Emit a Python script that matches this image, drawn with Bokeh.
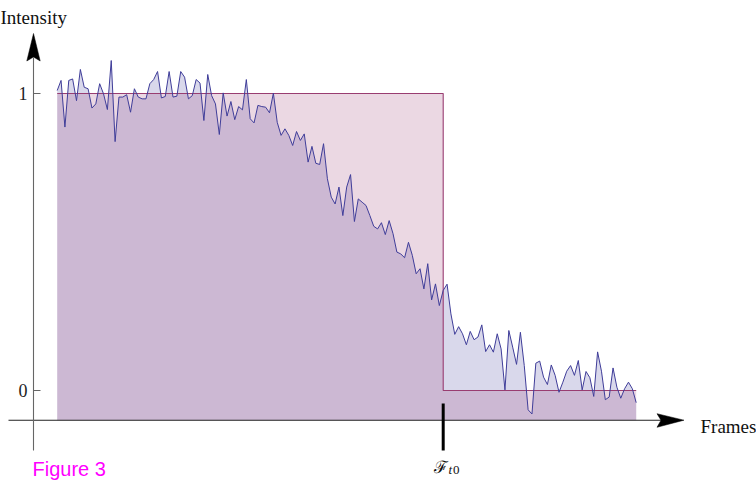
from bokeh.plotting import figure
from bokeh.models import Range1d
from bokeh.core.properties import value
from bokeh.embed import file_html
from bokeh.resources import INLINE

# ---------------- data ----------------
frames = list(range(0, 151))
intensity = [
    1.010, 1.044, 0.887, 1.044, 1.049, 0.976, 1.081, 1.021, 1.016, 0.951,
    0.965, 1.033, 0.999, 0.946, 1.111, 0.838, 0.988, 0.988, 0.996, 0.937,
    1.016, 0.988, 0.982, 0.982, 1.033, 1.047, 1.074, 0.985, 0.990, 1.074,
    0.988, 0.991, 1.074, 1.055, 0.982, 0.993, 1.047, 1.035, 0.909, 1.064,
    0.993, 0.965, 0.862, 1.002, 0.924, 0.973, 0.912, 0.956, 0.945, 1.047,
    0.915, 0.901, 0.960, 0.956, 0.954, 0.935, 1.001, 0.903, 0.859, 0.881,
    0.859, 0.825, 0.872, 0.842, 0.864, 0.769, 0.822, 0.765, 0.761, 0.831,
    0.713, 0.651, 0.628, 0.685, 0.589, 0.685, 0.727, 0.569, 0.645, 0.634,
    0.623, 0.589, 0.553, 0.544, 0.565, 0.525, 0.572, 0.528, 0.466, 0.460,
    0.447, 0.499, 0.455, 0.393, 0.410, 0.342, 0.427, 0.305, 0.359, 0.286,
    0.337, 0.358, 0.258, 0.189, 0.215, 0.191, 0.154, 0.199, 0.171, 0.180,
    0.221, 0.131, 0.154, 0.129, 0.191, 0.140, 0.002, 0.202, 0.146, 0.088,
    0.196, 0.084, -0.065, -0.079, 0.092, 0.099, 0.045, 0.020, 0.086, 0.051,
    -0.006, 0.028, 0.065, 0.084, 0.051, 0.101, 0.002, 0.064, 0.043, -0.020,
    0.130, 0.065, -0.031, -0.022, 0.076, 0.011, -0.026, 0.006, 0.028, 0.006,
    -0.041,
]
T0 = 100            # frame of the step (F_t0)
HIGH, LOW = 1, 0    # step levels
AXIS_Y = -0.1       # where the frame axis crosses
step_x = [frames[0], T0, T0, frames[-1]]
step_y = [HIGH, HIGH, LOW, LOW]
y_tick_values = [1, 0]
y_tick_labels = ["1", "0"]

# ---------------- layout (picture pixels) ----------------
W, H = 756, 480
X0_PX, DX_PX = 56.7, 3.86      # x of frame 0, px per frame
Y1_PX, Y0_PX = 93.0, 390.0     # y of intensity 1 and 0
KY = Y0_PX - Y1_PX


def X(px):
    return (px - X0_PX) / DX_PX


def Y(py):
    return (Y0_PX - py) / KY


BLUE = "#3f3d99"
MAGENTA = "#993d71"
SERIF = value("Liberation Serif")

p = figure(width=W, height=H,
           x_range=Range1d(X(0), X(W)),
           y_range=Range1d(Y(H), Y(0)),
           x_axis_type=None, y_axis_type=None,
           output_backend="svg", toolbar_location=None,
           min_border=0, min_border_left=0, min_border_right=0,
           min_border_top=0, min_border_bottom=0)
p.grid.visible = False
p.outline_line_color = None
p.background_fill_color = "white"
p.border_fill_color = "white"

# fills
p.varea(x=frames, y1=[AXIS_Y] * len(frames), y2=intensity,
        fill_color=BLUE, fill_alpha=0.2)
p.varea(x=step_x, y1=[AXIS_Y] * len(step_x), y2=step_y,
        fill_color=MAGENTA, fill_alpha=0.2)

# lines
p.line(step_x, step_y, line_color=MAGENTA, line_width=1.1)
p.line(frames, intensity, line_color=BLUE, line_width=1.0)

# frame axis (horizontal) with arrow
p.segment(x0=[X(8)], y0=[AXIS_Y], x1=[X(662)], y1=[AXIS_Y],
          line_color="#222222", line_width=1.1)
p.patch(x=[X(683.5), X(656.5), X(660.5), X(656.5)],
        y=[AXIS_Y, Y(413.2), AXIS_Y, Y(426.8)],
        fill_color="black", line_color="black", line_width=0.5)

# intensity axis (vertical) with arrow
p.segment(x0=[X(33)], y0=[Y(450)], x1=[X(33)], y1=[Y(57)],
          line_color="#666666", line_width=1.1)
p.patch(x=[X(33), X(26.3), X(33), X(39.7)],
        y=[Y(33), Y(60.5), Y(56.5), Y(60.5)],
        fill_color="black", line_color="black", line_width=0.5)

# y ticks and labels
p.segment(x0=[X(33)] * 2, y0=y_tick_values, x1=[X(40)] * 2, y1=y_tick_values,
          line_color="#666666", line_width=1.1)
p.text(x=[X(27)] * 2, y=y_tick_values, text=y_tick_labels,
       text_font=SERIF, text_font_size=value("18px"), text_color="#222222",
       text_align="right", text_baseline="middle")

# axis titles
p.text(x=[X(0)], y=[Y(17)], text=["Intensity"], text_font=SERIF,
       text_font_size=value("19px"), text_color="#111111",
       text_align="left", text_baseline="alphabetic")
p.text(x=[X(700)], y=[Y(426)], text=["Frames"], text_font=SERIF,
       text_font_size=value("19px"), text_color="#111111",
       text_align="left", text_baseline="alphabetic")

# F_t0 marker
p.segment(x0=[T0], y0=[Y(403)], x1=[T0], y1=[Y(450)],
          line_color="black", line_width=3)
p.text(x=[X(433)], y=[Y(466)], text=["\u2131"], text_font=value("DejaVu Serif"),
       text_font_size=value("17px"), text_color="#111111",
       text_align="left", text_baseline="alphabetic")
p.text(x=[X(448)], y=[Y(469)], text=["t"], text_font=SERIF,
       text_font_style="italic",
       text_font_size=value("13px"), text_color="#111111",
       text_align="left", text_baseline="alphabetic")
p.text(x=[X(452.5)], y=[Y(469)], text=["0"], text_font=SERIF,
       text_font_size=value("13px"), text_color="#111111",
       text_align="left", text_baseline="alphabetic")

# figure caption
p.text(x=[X(32)], y=[Y(468)], text=["Figure 3"], text_font=value("Liberation Sans"),
       text_font_size=value("20px"), text_color="#ff00ff",
       text_align="left", text_baseline="alphabetic")

open("out.html", "w").write(file_html(p, INLINE))
